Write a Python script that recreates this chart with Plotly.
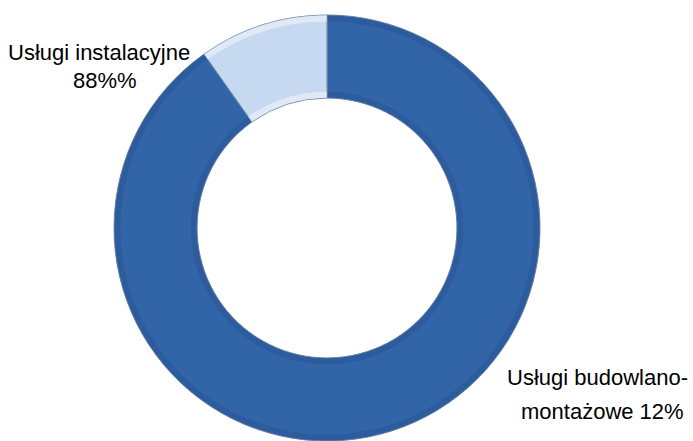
import plotly.graph_objects as go

categories = ["Usługi budowlano-montażowe", "Usługi instalacyjne"]
values = [90.2, 9.8]
label_lines = [["Usługi instalacyjne", "88%%"], ["Usługi budowlano-", "montażowe 12%"]]
colors = ["#3264A8", "#C6D9F0"]

W, H = 693, 441
CX, CY, R = 327, 228, 213
HOLE = 0.61


def ring_domain(r):
    return dict(x=[(CX - r) / W, (CX + r) / W],
                y=[max(0, 1 - (CY + r) / H), 1 - (CY - r) / H])


fig = go.Figure()
fig.add_trace(go.Pie(
    labels=categories,
    values=values,
    hole=HOLE,
    sort=False,
    direction="clockwise",
    rotation=0,
    textinfo="none",
    hoverinfo="label+percent",
    marker=dict(colors=colors, line=dict(color="#7088A8", width=1)),
    domain=ring_domain(R),
    showlegend=False,
))

# subtle bevel bands (outer and inner edge)
bands = [
    (0.97, 1.0, ["rgba(20,45,90,0.12)", "rgba(255,255,255,0.45)"]),
    (HOLE, HOLE + 0.03, ["rgba(20,45,90,0.12)", "rgba(255,255,255,0.45)"]),
]
for r1, r2, bcol in bands:
    fig.add_trace(go.Pie(
        labels=categories, values=values, hole=r1 / r2, sort=False,
        direction="clockwise", rotation=0, textinfo="none", hoverinfo="skip",
        marker=dict(colors=bcol, line=dict(width=0)),
        domain=ring_domain(R * r2), showlegend=False,
    ))

label_pos = [[(99, 52), (105, 80)], [(597, 377), (602, 411)]]
for lines, positions in zip(label_lines, label_pos):
    for txt, (px, py) in zip(lines, positions):
        fig.add_annotation(
            x=px / W, y=1 - py / H, xref="paper", yref="paper",
            xanchor="center", yanchor="middle",
            text=txt, showarrow=False, align="center",
            font=dict(family="Liberation Sans, Arial, sans-serif",
                      size=22, color="#000000"),
        )

fig.update_layout(
    width=W, height=H,
    margin=dict(l=0, r=0, t=0, b=0),
    paper_bgcolor="white", plot_bgcolor="white",
)

fig.write_html("out.html", config={"displayModeBar": False},
               post_script="document.body.style.margin='0';")
